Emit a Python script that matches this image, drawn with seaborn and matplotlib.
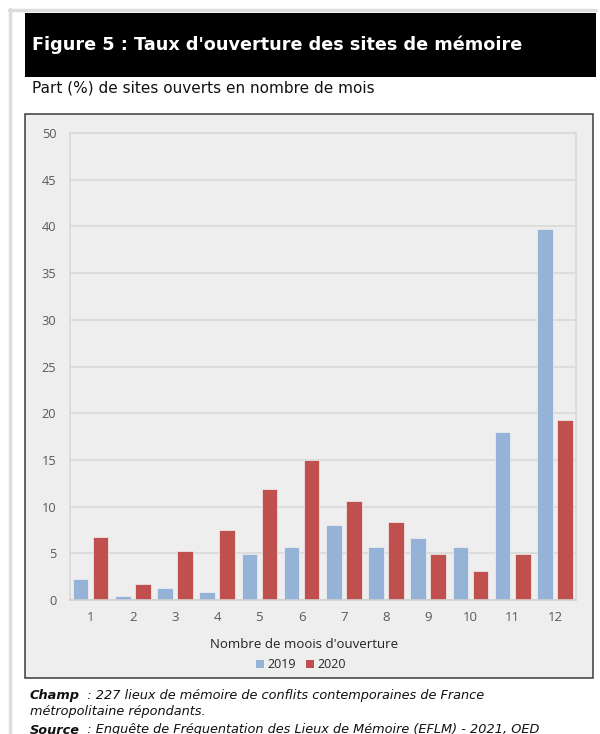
import matplotlib
matplotlib.use("Agg")
import matplotlib.pyplot as plt
from matplotlib.patches import Rectangle, Patch
from matplotlib.lines import Line2D
import seaborn as sns
import pandas as pd

# ---- data ----
mois = [1, 2, 3, 4, 5, 6, 7, 8, 9, 10, 11, 12]
val_2019 = [2.2, 0.4, 1.3, 0.9, 4.9, 5.7, 8.0, 5.7, 6.6, 5.7, 18.0, 39.7]
val_2020 = [6.7, 1.7, 5.2, 7.5, 11.9, 15.0, 10.6, 8.4, 4.9, 3.1, 4.9, 19.3]
series = ["2019", "2020"]
colors = ["#95B3D7", "#C0504D"]
yticks = [0, 5, 10, 15, 20, 25, 30, 35, 40, 45, 50]

title = "Figure 5 : Taux d'ouverture des sites de mémoire"
subtitle = "Part (%) de sites ouverts en nombre de mois"
xlabel = "Nombre de moois d'ouverture"

df = pd.DataFrame({
    "mois": [str(m) for m in mois] * 2,
    "annee": [series[0]] * len(mois) + [series[1]] * len(mois),
    "val": val_2019 + val_2020,
})

sns.set_theme(style="white")
plt.rcParams["font.family"] = ["DejaVu Sans"]

W, H = 600, 734
fig = plt.figure(figsize=(W / 100, H / 100), dpi=100)
fig.patch.set_facecolor("white")

def fx(px):
    return px / W

def fy(py):
    return 1 - py / H

# outer light-gray border lines
fig.add_artist(Line2D([fx(9), fx(596)], [fy(10), fy(10)], color="#DDDDDD", lw=2.5, zorder=-2))
fig.add_artist(Line2D([fx(10), fx(10)], [fy(9), fy(734)], color="#DDDDDD", lw=2.5, zorder=-2))

# black title band
fig.add_artist(Rectangle((fx(25), fy(77)), fx(596) - fx(25), fy(13) - fy(77),
                         transform=fig.transFigure, facecolor="black", edgecolor="none",
                         zorder=-2))
fig.text(fx(32), fy(45), title, color="white", fontsize=12.7, fontweight="bold",
         va="center", ha="left", family="DejaVu Sans")
fig.text(fx(32), fy(88), subtitle, color="#111111", fontsize=11.0,
         va="center", ha="left", family="DejaVu Sans")

# chart box
fig.add_artist(Rectangle((fx(25), fy(678)), fx(593) - fx(25), fy(114) - fy(678),
                         transform=fig.transFigure, facecolor="#EEEEEE",
                         edgecolor="#3A3A3A", lw=1.1, zorder=-2))

ax = fig.add_axes([fx(69.5), fy(600), fx(576) - fx(69.5), fy(133) - fy(600)])
ax.set_zorder(2)
ax.set_facecolor("#EEEEEE")
sns.barplot(data=df, x="mois", y="val", hue="annee", palette=colors,
            width=0.95, gap=0.22, ax=ax, legend=False, saturation=1,
            edgecolor="#F2F2F2", linewidth=0.5, errorbar=None)
ax.set_ylim(0, 50)
ax.set_xlim(-0.5, 11.5)
ax.set_yticks(yticks)
ax.set_yticklabels([str(t) for t in yticks])
ax.yaxis.grid(True, color="#D9D9D9", lw=1.2)
ax.set_axisbelow(True)
for s in ax.spines.values():
    s.set_color("#D9D9D9")
    s.set_linewidth(1.2)
ax.spines["bottom"].set_color("#D0D0D0")
ax.tick_params(axis="both", length=0, colors="#595959")
ax.tick_params(axis="y", pad=9.5, labelsize=9.2)
ax.tick_params(axis="x", pad=8, labelsize=9.5)
for lab in ax.get_xticklabels() + ax.get_yticklabels():
    lab.set_family(["Open Sans", "DejaVu Sans"])
ax.set_xlabel("")
ax.set_ylabel("")

fig.text(fx(304), fy(645), xlabel, ha="center", va="center", fontsize=9.5,
         color="#222222", family=["Open Sans", "DejaVu Sans"])

handles = [Patch(facecolor=c, edgecolor="none") for c in colors]
fig.legend(handles, series, loc="center", bbox_to_anchor=(fx(301), fy(665)),
           ncol=2, frameon=False, handlelength=0.65, handleheight=0.65,
           handletextpad=0.3, columnspacing=0.8,
           prop={"family": ["Open Sans", "DejaVu Sans"], "size": 9})

# footer
fs = 9.3
fig.text(fx(30), fy(695), "Champ", fontsize=fs, fontweight="bold", style="italic",
         va="center", ha="left", color="#111111")
fig.text(fx(79), fy(695), "  : 227 lieux de mémoire de conflits contemporaines de France",
         fontsize=fs, style="italic", va="center", ha="left", color="#111111")
fig.text(fx(30), fy(712), "métropolitaine répondants.", fontsize=fs, style="italic",
         va="center", ha="left", color="#111111")
fig.text(fx(30), fy(730), "Source", fontsize=fs, fontweight="bold", style="italic",
         va="center", ha="left", color="#111111")
fig.text(fx(79), fy(730), "  : Enquête de Fréquentation des Lieux de Mémoire (EFLM) - 2021, OED",
         fontsize=fs, style="italic", va="center", ha="left", color="#111111")

fig.savefig("out.png", dpi=100, facecolor="white")
